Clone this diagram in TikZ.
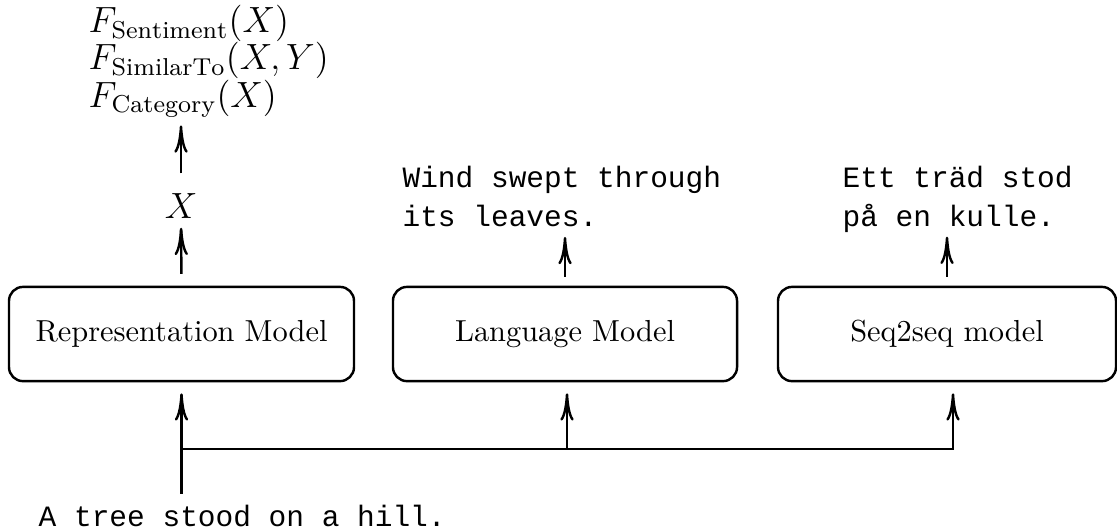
\documentclass[tikz,border=0pt]{standalone}
\usepackage{fontspec}
\setmonofont{Liberation Mono}
\usetikzlibrary{arrows.meta}

\begin{document}
\begin{tikzpicture}[x=0.329pt, y=-0.329pt,
  model/.style={draw, line width=0.8pt, rounded corners=4.6pt,
    minimum height=31pt, inner sep=0pt, outer sep=0pt,
    font=\fontsize{10}{12}\selectfont},
  flow/.style={line width=0.8pt, -{To[length=9pt,width=4.4pt]}},
  sentence/.style={font=\ttfamily\fontsize{9.7}{12.8}\selectfont,
    align=left, inner sep=0pt, anchor=base west},
  formula/.style={font=\fontsize{11.5}{12.2}\selectfont,
    align=left, inner sep=0pt, anchor=base west}]

  \useasboundingbox (0,0) rectangle (1117,530);

  % the three models
  \node[model, minimum width=113.5pt] (rep)  at (181.5,334) {Representation Model};
  \node[model, minimum width=113.2pt] (lang) at (565,334)   {Language Model};
  \node[model, minimum width=111.2pt] (seq)  at (947,334)   {Seq2seq model};

  % outputs (multi-line nodes sit on the baseline of their last line)
  \node[formula, anchor=base] (x) at (181,218) {$X$};
  \node[formula] (tasks) at (88,107)
    {$F_{\mathrm{Sentiment}}(X)$\\$F_{\mathrm{SimilarTo}}(X,Y)$\\$F_{\mathrm{Category}}(X)$};
  \node[sentence] (lmout)  at (402,226) {Wind swept through\\its leaves.};
  \node[sentence] (s2sout) at (842,226) {Ett träd stod\\på en kulle.};

  % input sentence
  \node[sentence, inner sep=0.333em] (in) at (28,526) {A tree stood on a hill.};

  % junctions on the input bus
  \coordinate (j1) at (181.5,449);
  \coordinate (j2) at (567,449);
  \coordinate (j3) at (953,449);

  % upward outputs
  \draw[flow, shorten <=4.3pt, shorten >=3pt] (rep.north) -- (x.south);
  \draw[flow, shorten <=6.3pt, shorten >=2.4pt] (x.north) -- (x.north |- tasks.south);
  \draw[flow, shorten <=3.3pt, shorten >=3.3pt] (lang.north) -- (lang.north |- lmout.south);
  \draw[flow, shorten <=3.3pt, shorten >=1.3pt] (seq.north) -- (seq.north |- s2sout.south);

  % input fan-out
  \draw[flow, shorten >=4pt] (in.north -| j1) -- (j1 |- rep.south);
  \draw[flow, shorten >=4pt] (j1) -- (j3) -- (j3 |- seq.south);
  \draw[flow, shorten >=4pt] (j2) -- (j2 |- lang.south);
\end{tikzpicture}
\end{document}
